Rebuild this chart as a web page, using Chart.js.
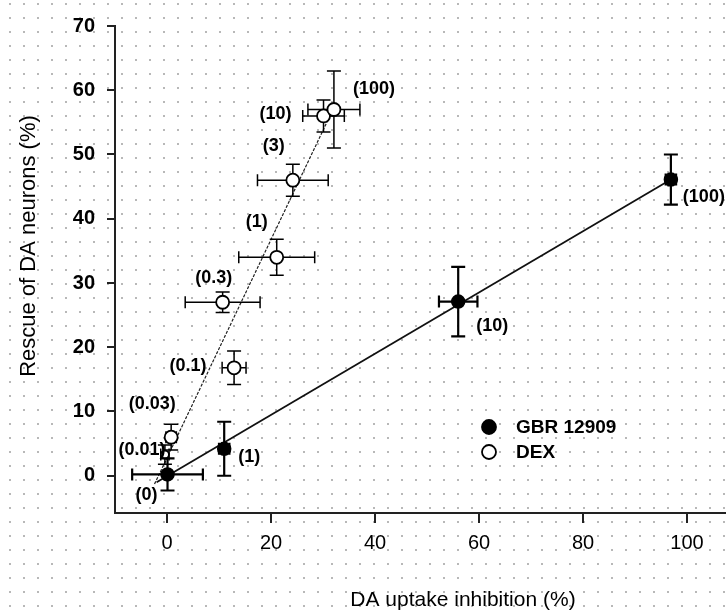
<!DOCTYPE html>
<html>
<head>
<meta charset="utf-8">
<script src="https://cdn.jsdelivr.net/npm/chart.js@4/dist/chart.umd.min.js"></script>
<style>
  html, body { margin: 0; padding: 0; }
  body {
    width: 726px; height: 613px; overflow: hidden;
    background-color: #fff;
    /* faint dotted paper from the scanned figure */
    background-image: radial-gradient(circle, #b8b8b8 1px, transparent 1.4px);
    background-size: 14px 14px;
    background-position: 3px -3px;
  }
  canvas { display: block; }
</style>
</head>
<body>
<canvas id="uptakeChart" width="726" height="613"></canvas>
<script>
// ---- data ----
const xTicks = [0, 20, 40, 60, 80, 100];
const yTicks = [0, 10, 20, 30, 40, 50, 60, 70];

// GBR 12909 (filled), dose labels in brackets
const gbrDoses = ['(0)', '(1)', '(10)', '(100)'];
const gbrX = [0.1, 11.0, 56.0, 96.9];
const gbrY = [0.2, 4.2, 27.1, 46.1];
const gbrXErr = [6.8, 1.0, 3.7, 1.0];
const gbrYErr = [2.5, 4.2, 5.4, 3.9];

// DEX (open)
const dexDoses = ['(0.01)', '(0.03)', '(0.1)', '(0.3)', '(1)', '(3)', '(10)', '(100)'];
const dexX = [-0.4, 0.8, 12.9, 10.7, 21.1, 24.2, 30.1, 32.1];
const dexY = [3.3, 6.0, 16.8, 27.0, 34.0, 46.0, 56.0, 57.0];
const dexXErr = [0.8, 1.0, 2.3, 7.2, 7.3, 6.8, 4.0, 5.0];
const dexYErr = [1.5, 2.0, 2.6, 1.6, 2.8, 2.5, 2.5, 6.0];

// regression lines (end points)
const gbrFitX = [-2.0, 96.9];
const gbrFitY = [-1.0, 46.1];
const dexFitX = [-2.4, 31.5];
const dexFitY = [-1.3, 56.3];

// ---- layout bits (pixels) ----
const FONT = "'Liberation Sans', Arial, sans-serif";
const gbrLabelOffsets = [[-21, 21], [25, 8], [34, 24], [33, 17]];
const dexLabelOffsets = [[-23, -5], [-19, -33], [-46, -2], [-9, -24], [-20, -35], [-19, -34], [-48, -2], [40, -20]];

const toPoints = (xs, ys) => xs.map((x, i) => ({ x: x, y: ys[i] }));

// error bars drawn just before their dataset so markers sit on top
const errorBarPlugin = {
    id: 'errorBars',
    beforeDatasetDraw(chart, args) {
        const ds = chart.data.datasets[args.index];
        if (!ds.errorBars) return;
        const { ctx, scales: { x, y } } = chart;
        const eb = ds.errorBars;
        ctx.save();
        ctx.strokeStyle = '#000';
        ctx.lineWidth = eb.width;
        ds.data.forEach((p, i) => {
            const px = x.getPixelForValue(p.x), py = y.getPixelForValue(p.y);
            const y0 = y.getPixelForValue(p.y - eb.y[i]), y1 = y.getPixelForValue(p.y + eb.y[i]);
            const x0 = x.getPixelForValue(p.x - eb.x[i]), x1 = x.getPixelForValue(p.x + eb.x[i]);
            ctx.beginPath();
            ctx.moveTo(px, y0); ctx.lineTo(px, y1);
            ctx.moveTo(px - 7, y0); ctx.lineTo(px + 7, y0);
            ctx.moveTo(px - 7, y1); ctx.lineTo(px + 7, y1);
            ctx.moveTo(x0, py); ctx.lineTo(x1, py);
            ctx.moveTo(x0, py - 6); ctx.lineTo(x0, py + 6);
            ctx.moveTo(x1, py - 6); ctx.lineTo(x1, py + 6);
            ctx.stroke();
        });
        ctx.restore();
    }
};

// dose labels, legend and axis titles
const annotatePlugin = {
    id: 'annotate',
    afterDatasetsDraw(chart) {
        const { ctx, scales: { x, y } } = chart;
        ctx.save();
        ctx.fillStyle = '#000';
        ctx.textAlign = 'center';
        ctx.textBaseline = 'middle';
        ctx.font = 'bold 18px ' + FONT;
        chart.data.datasets.forEach(ds => {
            if (!ds.doseLabels) return;
            ds.data.forEach((p, i) => {
                const off = ds.labelOffsets[i];
                ctx.fillText(ds.doseLabels[i], x.getPixelForValue(p.x) + off[0], y.getPixelForValue(p.y) + off[1]);
            });
        });

        // legend
        const legend = [
            { text: 'GBR 12909', fill: '#000', y: 427 },
            { text: 'DEX', fill: '#fff', y: 452 }
        ];
        ctx.textAlign = 'left';
        ctx.font = 'bold 19px ' + FONT;
        legend.forEach(item => {
            ctx.beginPath();
            ctx.arc(489, item.y, 7, 0, Math.PI * 2);
            ctx.fillStyle = item.fill;
            ctx.fill();
            ctx.lineWidth = 1.8;
            ctx.strokeStyle = '#000';
            ctx.stroke();
            ctx.fillStyle = '#000';
            ctx.fillText(item.text, 516, item.y + 1);
        });

        // axis titles
        ctx.font = '21px ' + FONT;
        ctx.textAlign = 'center';
        ctx.fillText('DA uptake inhibition (%)', 463, 600);
        ctx.font = '22px ' + FONT;
        ctx.translate(29, 246);
        ctx.rotate(-Math.PI / 2);
        ctx.fillText('Rescue of DA neurons (%)', 0, 0);
        ctx.restore();
    }
};

const ctx = document.getElementById('uptakeChart').getContext('2d');
new Chart(ctx, {
    type: 'scatter',
    data: {
        datasets: [
            {
                label: 'GBR 12909',
                data: toPoints(gbrX, gbrY),
                backgroundColor: '#000',
                borderColor: '#000',
                borderWidth: 1.5,
                pointRadius: 6.5,
                pointHoverRadius: 6.5,
                errorBars: { x: gbrXErr, y: gbrYErr, width: 2.2 },
                doseLabels: gbrDoses,
                labelOffsets: gbrLabelOffsets,
                order: 1
            },
            {
                label: 'DEX',
                data: toPoints(dexX, dexY),
                backgroundColor: '#fff',
                borderColor: '#000',
                borderWidth: 1.8,
                pointRadius: [4, 6.5, 6.5, 6.5, 6.5, 6.5, 6.5, 6.5],
                pointHoverRadius: 6.5,
                errorBars: { x: dexXErr, y: dexYErr, width: 1.5 },
                doseLabels: dexDoses,
                labelOffsets: dexLabelOffsets,
                order: 2
            },
            {
                label: 'GBR fit',
                data: toPoints(gbrFitX, gbrFitY),
                showLine: true,
                borderColor: '#111',
                borderWidth: 1.8,
                pointRadius: 0,
                order: 3
            },
            {
                label: 'DEX fit',
                data: toPoints(dexFitX, dexFitY),
                showLine: true,
                borderColor: '#222',
                borderWidth: 1.2,
                borderDash: [3, 1.5],
                pointRadius: 0,
                order: 4
            }
        ]
    },
    options: {
        responsive: false,
        animation: false,
        layout: { autoPadding: false, padding: { top: 26, right: 0, left: 0, bottom: 0 } },
        scales: {
            x: {
                type: 'linear',
                position: 'bottom',
                min: -10, max: 107.5,
                afterBuildTicks: s => { s.ticks = xTicks.map(v => ({ value: v })); },
                afterFit: s => { s.height = 100; s.paddingLeft = 0; s.paddingRight = 0; },
                grid: { drawOnChartArea: false, drawTicks: true, tickLength: 10, color: '#222', lineWidth: 2 },
                border: { display: true, color: '#222', width: 2 },
                ticks: { color: '#000', font: { family: FONT, size: 20 }, padding: 8, maxRotation: 0, autoSkip: false }
            },
            y: {
                type: 'linear',
                position: 'left',
                min: -5.8, max: 70,
                afterBuildTicks: s => { s.ticks = yTicks.map(v => ({ value: v })); },
                afterFit: s => { s.width = 115; },
                grid: { drawOnChartArea: false, drawTicks: true, tickLength: 8, color: '#222', lineWidth: 2 },
                border: { display: true, color: '#222', width: 2 },
                ticks: { color: '#000', font: { family: FONT, size: 20, weight: 'bold' }, padding: 12 }
            }
        },
        plugins: {
            legend: { display: false },
            tooltip: { enabled: false }
        }
    },
    plugins: [errorBarPlugin, annotatePlugin]
});
</script>
</body>
</html>
